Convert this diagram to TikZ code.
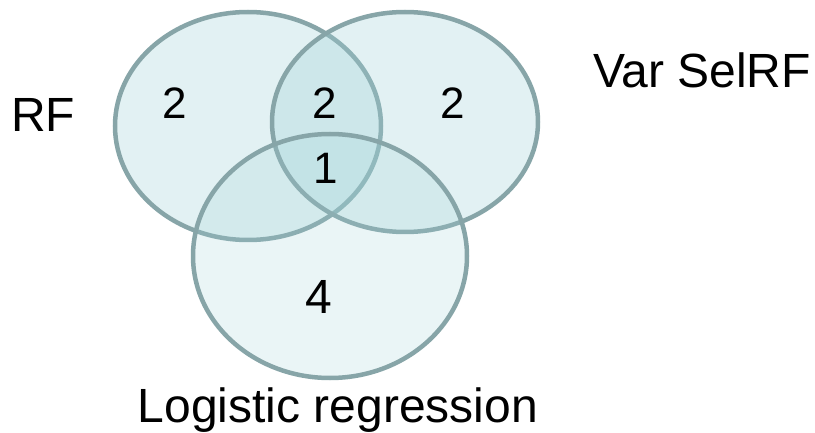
\documentclass[tikz,border=0pt]{standalone}
\usepackage{fontspec}
\setmainfont{Liberation Sans}
\usetikzlibrary{shapes.geometric}
\definecolor{setFill}{RGB}{160,210,215}
\definecolor{setLine}{RGB}{135,165,168}

\begin{document}
\begin{tikzpicture}[
    x=1pt, y=-1pt,
    set/.style={
        ellipse,
        draw=setLine,
        line width=4.5pt,
        fill=setFill,
        fill opacity=0.31,
        draw opacity=1,
        inner sep=0pt
    },
    count/.style={anchor=base, inner sep=0pt, font=\fontsize{44}{52}\selectfont},
    setname/.style={anchor=base, inner sep=0pt, font=\fontsize{48}{58}\selectfont}
]
    \useasboundingbox (0,0) rectangle (815,433);

    % The three sets
    \node[set, minimum width=266pt, minimum height=228pt] (rfSet) at (248,126) {};
    \node[set, minimum width=266pt, minimum height=220pt] (selSet) at (405,122) {};
    \node[set, fill opacity=0.22, minimum width=274pt, minimum height=244pt] (logSet) at (330,256) {};

    % Set names
    \node[setname] (rfName) at (43,132) {RF};
    \node[setname] (selName) at (702,88) {Var SelRF};
    \node[setname] (logName) at (338,422) {Logistic regression};

    % Counts per region
    \node[count] (rfOnly) at (175,119) {2};
    \node[count] (rfSel) at (325,119) {2};
    \node[count] (selOnly) at (453,119) {2};
    \node[count] (allThree) at (326,184) {1};
    \node[count, font=\fontsize{48}{58}\selectfont] (logOnly) at (319,313) {4};
\end{tikzpicture}
\end{document}
